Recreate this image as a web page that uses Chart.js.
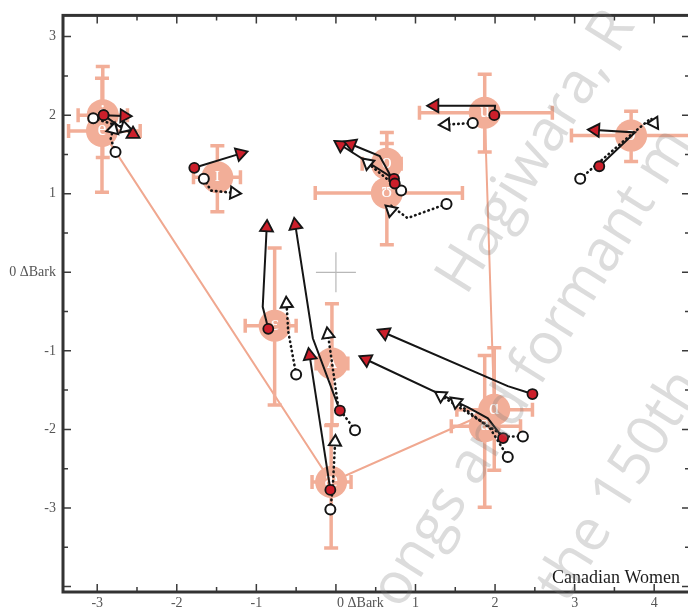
<!DOCTYPE html>
<html>
<head>
<meta charset="utf-8">
<script src="https://cdn.jsdelivr.net/npm/chart.js@4.4.0/dist/chart.umd.min.js"></script>
<style>
  html, body { margin: 0; padding: 0; background: #fff; overflow: hidden; }
  #wrap { position: relative; width: 690px; height: 610px; }
</style>
</head>
<body>
<div id="wrap"><canvas id="vowelChart"></canvas></div>
<script>
// vowel means (salmon circles) and their spread
const vowelLabels = ['i', 'e', 'ɪ', 'o', 'ʊ', 'u', 'ɔ', 'ɛ', 'ʌ', 'æ', 'ɑ', 'a'];
const vowelX = [-2.93, -2.94, -1.49, 0.64, 0.64, 1.87, 3.71, -0.77, -0.05, -0.06, 1.99, 1.87];
const vowelY = [2.00, 1.80, 1.21, 1.38, 1.01, 2.03, 1.74, -0.68, -1.16, -2.67, -1.75, -1.96];
const xLow  = [-3.24, -3.36, -1.79, 0.33, -0.26, 1.05, 2.96, -1.14, -0.25, -0.30, 1.52, 1.45];
const xHigh = [-2.62, -2.46, -1.20, 0.82, 1.59, 2.72, 4.60, -0.50, 0.15, 0.19, 2.47, 2.32];
const yLow  = [1.46, 1.02, 0.77, 1.12, 0.35, 1.53, 1.41, -1.69, -1.94, -3.51, -2.52, -2.99];
const yHigh = [2.62, 2.47, 1.61, 1.64, 1.78, 2.52, 2.05, 0.31, -0.40, -1.95, -0.96, -1.06];

// outline joining the corner vowels e - ae - ɑ - u
const outlineX = [-2.94, -0.06, 1.99, 1.87];
const outlineY = [1.80, -2.67, -1.75, 2.03];

// solid trajectories (filled circle -> filled triangle)
const solidX = [
  [-2.92, -2.66], [-2.92, -2.74, -2.55], [-1.78, -1.20], [0.73, 0.06], [0.74, 0.55, 0.19],
  [1.99, 2.00, 1.24], [3.31, 3.76, 3.26], [-0.85, -0.92, -0.87], [0.05, -0.29, -0.51],
  [-0.07, -0.33], [2.47, 2.16, 0.61], [2.10, 1.91, 1.66, 0.38]
];
const solidY = [
  [2.00, 1.99], [2.00, 1.87, 1.76], [1.33, 1.51], [1.19, 1.62], [1.13, 1.48, 1.63],
  [2.00, 2.12, 2.12], [1.35, 1.78, 1.81], [-0.72, -0.44, 0.57], [-1.76, -0.84, 0.60],
  [-2.77, -1.06], [-1.55, -1.45, -0.77], [-2.11, -1.86, -1.72, -1.11]
];

// dotted trajectories (open circle -> open triangle)
const dottedX = [
  [-3.05, -2.85, -2.65], [-2.77, -2.83, -2.80], [-1.66, -1.57, -1.28], [0.82, 0.40],
  [1.39, 0.90, 0.70, 0.69], [1.72, 1.38], [3.07, 3.66, 3.96, 4.00], [-0.50, -0.60, -0.62],
  [0.24, 0.03, -0.10], [-0.07, -0.04, -0.01], [2.35, 2.12, 1.32], [2.16, 1.94, 1.51]
];
const dottedY = [
  [1.96, 1.90, 1.84], [1.53, 1.70, 1.82], [1.19, 1.04, 1.01], [1.04, 1.39],
  [0.87, 0.69, 0.84, 0.79], [1.90, 1.88], [1.19, 1.71, 1.96, 1.90], [-1.30, -0.75, -0.40],
  [-2.01, -1.72, -0.79], [-3.02, -2.75, -2.16], [-2.09, -2.09, -1.57], [-2.35, -1.99, -1.65]
];

const xTicks = [-3, -2, -1, 0, 1, 2, 3, 4];
const yTicks = [-3, -2, -1, 0, 1, 2, 3];

const SALMON = '#f2ae98';
const RED = '#cc1f2b';
const INK = '#151515';
const SERIF = '"Liberation Serif", "DejaVu Serif", serif';

function heading(xs, ys) {
  const n = xs.length;
  return Math.atan2(xs[n - 1] - xs[n - 2], ys[n - 1] - ys[n - 2]) * 180 / Math.PI;
}

function pts(xs, ys) {
  return xs.map((x, i) => ({ x: x, y: ys[i] }));
}

const datasets = [];

// markers on top
datasets.push({
  label: 'solid start', order: 0,
  data: solidX.map((xs, i) => ({ x: xs[0], y: solidY[i][0] })),
  pointStyle: 'circle', pointRadius: 5,
  pointBackgroundColor: RED, pointBorderColor: INK, pointBorderWidth: 1.8
});
datasets.push({
  label: 'solid end', order: 0,
  data: solidX.map((xs, i) => ({ x: xs[xs.length - 1], y: solidY[i][xs.length - 1] })),
  pointStyle: 'triangle', pointRadius: 7.5,
  pointRotation: ctx => heading(solidX[ctx.dataIndex], solidY[ctx.dataIndex]),
  pointBackgroundColor: RED, pointBorderColor: INK, pointBorderWidth: 1.8
});
datasets.push({
  label: 'dotted start', order: 0,
  data: dottedX.map((xs, i) => ({ x: xs[0], y: dottedY[i][0] })),
  pointStyle: 'circle', pointRadius: 5,
  pointBackgroundColor: '#fff', pointBorderColor: INK, pointBorderWidth: 2
});
datasets.push({
  label: 'dotted end', order: 0,
  data: dottedX.map((xs, i) => ({ x: xs[xs.length - 1], y: dottedY[i][xs.length - 1] })),
  pointStyle: 'triangle', pointRadius: 7,
  pointRotation: ctx => heading(dottedX[ctx.dataIndex], dottedY[ctx.dataIndex]),
  pointBackgroundColor: '#fff', pointBorderColor: INK, pointBorderWidth: 2
});

solidX.forEach((xs, i) => {
  datasets.push({
    label: 'solid ' + i, order: 1, data: pts(xs, solidY[i]),
    showLine: true, borderColor: INK, borderWidth: 2, pointRadius: 0
  });
});
dottedX.forEach((xs, i) => {
  datasets.push({
    label: 'dotted ' + i, order: 1, data: pts(xs, dottedY[i]),
    showLine: true, borderColor: INK, borderWidth: 2.6, borderDash: [0.5, 4.2],
    borderCapStyle: 'round', pointRadius: 0
  });
});

// salmon layer
datasets.push({
  label: 'vowels', order: 5,
  data: pts(vowelX, vowelY),
  pointStyle: 'circle', pointRadius: 16,
  pointBackgroundColor: SALMON, pointBorderWidth: 0
});
datasets.push({
  label: 'x spread', order: 6,
  data: vowelX.flatMap((x, i) => [{ x: xLow[i], y: vowelY[i] }, { x: xHigh[i], y: vowelY[i] }, { x: x, y: null }]),
  showLine: true, spanGaps: false, borderColor: SALMON, borderWidth: 3.5,
  pointStyle: 'line', pointRadius: 7, pointRotation: 90,
  pointBorderColor: SALMON, pointBorderWidth: 3.5
});
datasets.push({
  label: 'y spread', order: 6,
  data: vowelY.flatMap((y, i) => [{ x: vowelX[i], y: yLow[i] }, { x: vowelX[i], y: yHigh[i] }, { x: vowelX[i], y: null }]),
  showLine: true, spanGaps: false, borderColor: SALMON, borderWidth: 3.5,
  pointStyle: 'line', pointRadius: 7, pointRotation: 0,
  pointBorderColor: SALMON, pointBorderWidth: 3.5
});
datasets.push({
  label: 'outline', order: 7,
  data: pts(outlineX, outlineY),
  showLine: true, borderColor: '#f0a890', borderWidth: 2, pointRadius: 0
});
datasets.push({
  label: 'origin', order: 8,
  data: [{ x: 0, y: 0 }],
  pointStyle: 'cross', pointRadius: 20,
  pointBorderColor: '#b8b8b8', pointBorderWidth: 1.2
});

// white vowel symbols inside the circles
const vowelText = {
  id: 'vowelText',
  afterDatasetDraw(chart, args) {
    if (args.meta.label !== 'vowels') return;
    const ctx = chart.ctx;
    ctx.save();
    ctx.fillStyle = '#fff';
    ctx.font = '20px ' + SERIF;
    ctx.textAlign = 'center';
    ctx.textBaseline = 'middle';
    args.meta.data.forEach((p, i) => ctx.fillText(vowelLabels[i], p.x, p.y - 1));
    ctx.restore();
  }
};

// frame with inward ticks on all four sides
const frameTicks = {
  id: 'frameTicks',
  afterDatasetsDraw(chart) {
    const { ctx, chartArea: a, scales } = chart;
    ctx.save();
    ctx.strokeStyle = '#3a3a3a';
    ctx.lineWidth = 1.5;
    scales.x.ticks.forEach(t => {
      const px = scales.x.getPixelForValue(t.value);
      const len = Number.isInteger(t.value) ? 8 : 5;
      ctx.beginPath();
      ctx.moveTo(px, a.bottom); ctx.lineTo(px, a.bottom - len);
      ctx.moveTo(px, a.top); ctx.lineTo(px, a.top + len);
      ctx.stroke();
    });
    scales.y.ticks.forEach(t => {
      const py = scales.y.getPixelForValue(t.value);
      const len = Number.isInteger(t.value) ? 8 : 5;
      ctx.beginPath();
      ctx.moveTo(a.left, py); ctx.lineTo(a.left + len, py);
      ctx.moveTo(a.right, py); ctx.lineTo(a.right - len, py);
      ctx.stroke();
    });
    ctx.lineWidth = 3;
    ctx.strokeStyle = '#333';
    ctx.strokeRect(a.left, a.top, a.right - a.left, a.bottom - a.top);
    ctx.fillStyle = '#1a1a1a';
    ctx.font = '18px ' + SERIF;
    ctx.textAlign = 'right';
    ctx.textBaseline = 'alphabetic';
    ctx.fillText('Canadian Women', a.right - 10, a.bottom - 9);
    ctx.restore();
  }
};

// faint diagonal watermark over the page
const watermark = {
  id: 'watermark',
  afterDraw(chart) {
    const ctx = chart.ctx;
    const lines = [
      ['Hagiwara, R', 452, 288],
      ['ongs and formant m', 386, 602],
      ['the 150th', 552, 596]
    ];
    ctx.save();
    ctx.fillStyle = 'rgba(120,120,120,0.26)';
    ctx.font = '58px "Open Sans", sans-serif';
    ctx.textAlign = 'left';
    ctx.textBaseline = 'middle';
    lines.forEach(([txt, x, y]) => {
      ctx.save();
      ctx.translate(x, y);
      ctx.rotate(-58 * Math.PI / 180);
      ctx.fillText(txt, 0, 0);
      ctx.restore();
    });
    ctx.restore();
  }
};

const zeroPad = ' '.repeat(14);

new Chart(document.getElementById('vowelChart'), {
  type: 'scatter',
  data: { datasets: datasets },
  options: {
    responsive: true,
    maintainAspectRatio: false,
    animation: false,
    layout: { autoPadding: false, padding: { top: 8, right: 0, left: 0, bottom: 0 } },
    plugins: { legend: { display: false }, tooltip: { enabled: false } },
    scales: {
      x: {
        type: 'linear', min: -3.43, max: 4.45,
        grid: { display: false, drawTicks: false },
        border: { display: false },
        afterFit: s => { s.height = 18; },
        ticks: {
          stepSize: 0.5, includeBounds: false, autoSkip: false, maxRotation: 0,
          padding: 3, color: '#555', font: { family: SERIF, size: 14 },
          callback: v => xTicks.includes(v) ? (v === 0 ? zeroPad + '0 ΔBark' : String(v)) : ''
        }
      },
      y: {
        type: 'linear', min: -4.07, max: 3.27,
        grid: { display: false, drawTicks: false },
        border: { display: false },
        afterFit: s => { s.width = 63; },
        ticks: {
          stepSize: 0.5, includeBounds: false, autoSkip: false,
          padding: 7, color: '#555', font: { family: SERIF, size: 14 },
          callback: v => yTicks.includes(v) ? (v === 0 ? '0 ΔBark' : String(v)) : ''
        }
      }
    }
  },
  plugins: [vowelText, frameTicks, watermark]
});
</script>
</body>
</html>
